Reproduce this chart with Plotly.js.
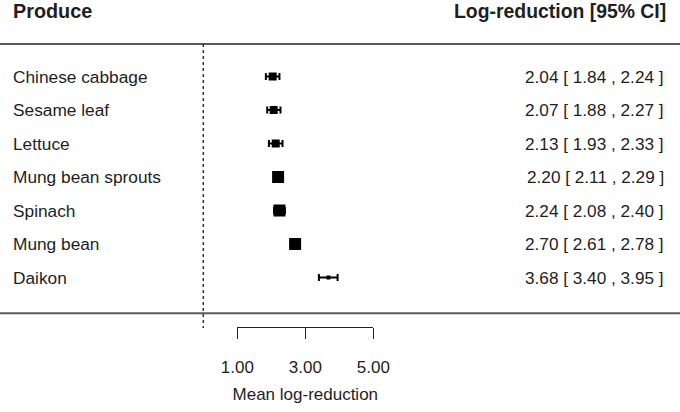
<!DOCTYPE html>
<html>
<head>
<meta charset="utf-8">
<script src="https://cdn.plot.ly/plotly-3.0.1.min.js"></script>
<style>html,body{margin:0;padding:0;background:#fff;}#chart{width:680px;height:412px;}</style>
</head>
<body>
<div id="chart"></div>
<script>
// ---- data ----
const produce = ["Chinese cabbage", "Sesame leaf", "Lettuce", "Mung bean sprouts", "Spinach", "Mung bean", "Daikon"];
const meanLR = [2.04, 2.07, 2.13, 2.20, 2.24, 2.70, 3.68];
const ciLow  = [1.84, 1.88, 1.93, 2.11, 2.08, 2.61, 3.40];
const ciHigh = [2.24, 2.27, 2.33, 2.29, 2.40, 2.78, 3.95];
const weights = [8, 8, 8, 12, 12, 12, 4];
const tickVals = [1, 3, 5];
const tickText = ["1.00", "3.00", "5.00"];
const headerLeft = "Produce";
const headerRight = "Log-reduction [95% CI]";
const axisTitle = "Mean log-reduction";

// ---- geometry (pixels) ----
const W = 680, H = 412;
const pxPerUnit = 34.0, zeroPx = 203.3;
const row0Px = 76.5, rowStep = 33.5;
const rows = produce.map((_, i) => i + 1);
const yTop = 1 - row0Px / rowStep;
const yBot = 1 + (H - row0Px) / rowStep;
const P = px => 1 - px / H;

const fontFam = '"Liberation Sans", Arial, Helvetica, sans-serif';
const txtCol = '#1e1e1e';

const traces = [
  {
    type: 'scatter', mode: 'markers', x: meanLR, y: rows,
    xaxis: 'x', yaxis: 'y',
    marker: {symbol: 'square', size: weights, color: '#000', opacity: 1, line: {width: 0}},
    error_x: {
      type: 'data', symmetric: false,
      array: meanLR.map((m, i) => ciHigh[i] - m),
      arrayminus: meanLR.map((m, i) => m - ciLow[i]),
      width: 3.5, thickness: 2, color: '#000'
    },
    hoverinfo: 'skip', showlegend: false
  },
  {
    type: 'scatter', mode: 'markers', x: [tickVals[0]], y: [rows[0]],
    xaxis: 'x2', yaxis: 'y', marker: {opacity: 0}, hoverinfo: 'skip', showlegend: false
  }
];

const annotations = [];
produce.forEach((p, i) => {
  annotations.push({
    xref: 'paper', yref: 'y', x: 11 / W, y: rows[i], xanchor: 'left', yanchor: 'middle',
    text: p, showarrow: false, font: {family: fontFam, size: 17.3, color: txtCol}
  });
  annotations.push({
    xref: 'paper', yref: 'y', x: 666 / W, y: rows[i], xanchor: 'right', yanchor: 'middle',
    text: meanLR[i].toFixed(2) + ' [ ' + ciLow[i].toFixed(2) + ' , ' + ciHigh[i].toFixed(2) + ' ]',
    showarrow: false, font: {family: fontFam, size: 17.2, color: txtCol}
  });
});
annotations.push({
  xref: 'paper', yref: 'paper', x: 11 / W, y: P(11), xanchor: 'left', yanchor: 'middle',
  text: '<b>' + headerLeft + '</b>', showarrow: false, font: {family: fontFam, size: 19.8, color: txtCol}
});
annotations.push({
  xref: 'paper', yref: 'paper', x: 668 / W, y: P(11), xanchor: 'right', yanchor: 'middle',
  text: '<b>' + headerRight + '</b>', showarrow: false, font: {family: fontFam, size: 19.4, color: txtCol}
});

const layout = {
  width: W, height: H,
  margin: {l: 0, r: 0, t: 0, b: 0, pad: 0},
  paper_bgcolor: '#fff', plot_bgcolor: 'rgba(0,0,0,0)',
  showlegend: false,
  xaxis: {
    domain: [0, 1], range: [-zeroPx / pxPerUnit, (W - zeroPx) / pxPerUnit],
    visible: false, fixedrange: true
  },
  yaxis: {
    domain: [0, 1], range: [yBot, yTop], visible: false, fixedrange: true
  },
  xaxis2: {
    domain: [(zeroPx + 1 * pxPerUnit) / W, (zeroPx + 5 * pxPerUnit) / W],
    range: [1, 5], anchor: 'free', position: P(326.7), side: 'bottom',
    showline: true, linecolor: '#222', linewidth: 1.5,
    ticks: 'outside', ticklen: 11, tickwidth: 1.5, tickcolor: '#222',
    tickmode: 'array', tickvals: tickVals, ticktext: tickText,
    ticklabelstandoff: 13,
    tickfont: {family: fontFam, size: 17, color: txtCol},
    showgrid: false, zeroline: false, fixedrange: true,
    title: {text: axisTitle, font: {family: fontFam, size: 17, color: txtCol}, standoff: 12}
  },
  shapes: [
    {type: 'line', xref: 'paper', yref: 'paper', x0: 0, x1: 1, y0: P(44), y1: P(44),
     line: {color: '#5a5a5a', width: 2}},
    {type: 'line', xref: 'paper', yref: 'paper', x0: 0, x1: 1, y0: P(313.3), y1: P(313.3),
     line: {color: '#5a5a5a', width: 2}},
    {type: 'line', xref: 'x', yref: 'paper', x0: 0, x1: 0, y0: P(44), y1: P(328),
     line: {color: '#333', width: 1.5, dash: 'dot'}}
  ],
  annotations: annotations
};

Plotly.newPlot('chart', traces, layout, {displayModeBar: false, staticPlot: true});
</script>
</body>
</html>
